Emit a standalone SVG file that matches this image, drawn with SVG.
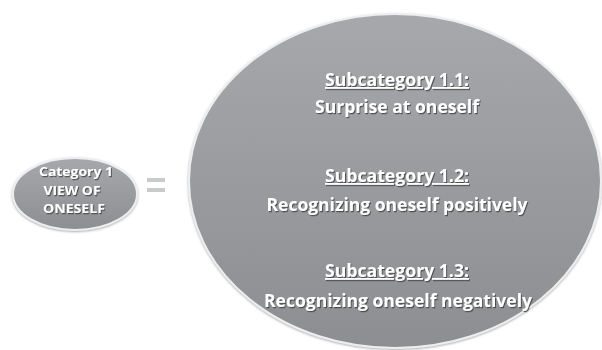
<svg xmlns="http://www.w3.org/2000/svg" width="602" height="350" viewBox="0 0 602 350">
<defs>
<linearGradient id="g" x1="0" y1="0" x2="0" y2="1">
<stop offset="0" stop-color="#a6a8ab"/>
<stop offset="0.5" stop-color="#999b9e"/>
<stop offset="1" stop-color="#8c8e92"/>
</linearGradient>
<filter id="ts" x="-10%" y="-30%" width="120%" height="160%">
<feDropShadow dx="1" dy="1.2" stdDeviation="0.6" flood-color="#3a3a3a" flood-opacity="0.8"/>
</filter>
<filter id="es" x="-5%" y="-5%" width="110%" height="110%">
<feDropShadow dx="0" dy="1" stdDeviation="1" flood-color="#555" flood-opacity="0.5"/>
</filter>
</defs>
<style>
.node{fill:url(#g);stroke:#eceef0;stroke-width:2;filter:url(#es)}
text{font-family:"Open Sans","Liberation Sans",sans-serif;font-weight:bold;fill:#ffffff;text-anchor:middle;filter:url(#ts)}
.big{font-size:18px}
.small{font-size:13px}
.u{text-decoration:underline}
.eq{fill:#c9cacc}
</style>
<rect width="602" height="350" fill="#ffffff"/>
<g id="category1">
<ellipse class="node" cx="75" cy="194" rx="62" ry="36"/>
<text class="small" x="76" y="176" textLength="74" lengthAdjust="spacingAndGlyphs">Category 1</text>
<text class="small" x="72" y="194.5" textLength="57" lengthAdjust="spacingAndGlyphs">VIEW OF</text>
<text class="small" x="74" y="212.5" textLength="62" lengthAdjust="spacingAndGlyphs">ONESELF</text>
</g>
<g id="connectors">
<rect class="eq" x="147" y="178" width="18" height="4"/>
<rect class="eq" x="147" y="188" width="18" height="4"/>
</g>
<g id="subcategories">
<ellipse class="node" cx="395" cy="181" rx="206" ry="167"/>
<text class="big u" x="397" y="86" textLength="144" lengthAdjust="spacingAndGlyphs">Subcategory 1.1:</text>
<text class="big" x="397" y="113" textLength="164" lengthAdjust="spacingAndGlyphs">Surprise at oneself</text>
<text class="big u" x="397" y="182" textLength="144" lengthAdjust="spacingAndGlyphs">Subcategory 1.2:</text>
<text class="big" x="397" y="211" textLength="261" lengthAdjust="spacingAndGlyphs">Recognizing oneself positively</text>
<text class="big u" x="397" y="277" textLength="144" lengthAdjust="spacingAndGlyphs">Subcategory 1.3:</text>
<text class="big" x="398" y="307" textLength="268" lengthAdjust="spacingAndGlyphs">Recognizing oneself negatively</text>
</g>
</svg>
